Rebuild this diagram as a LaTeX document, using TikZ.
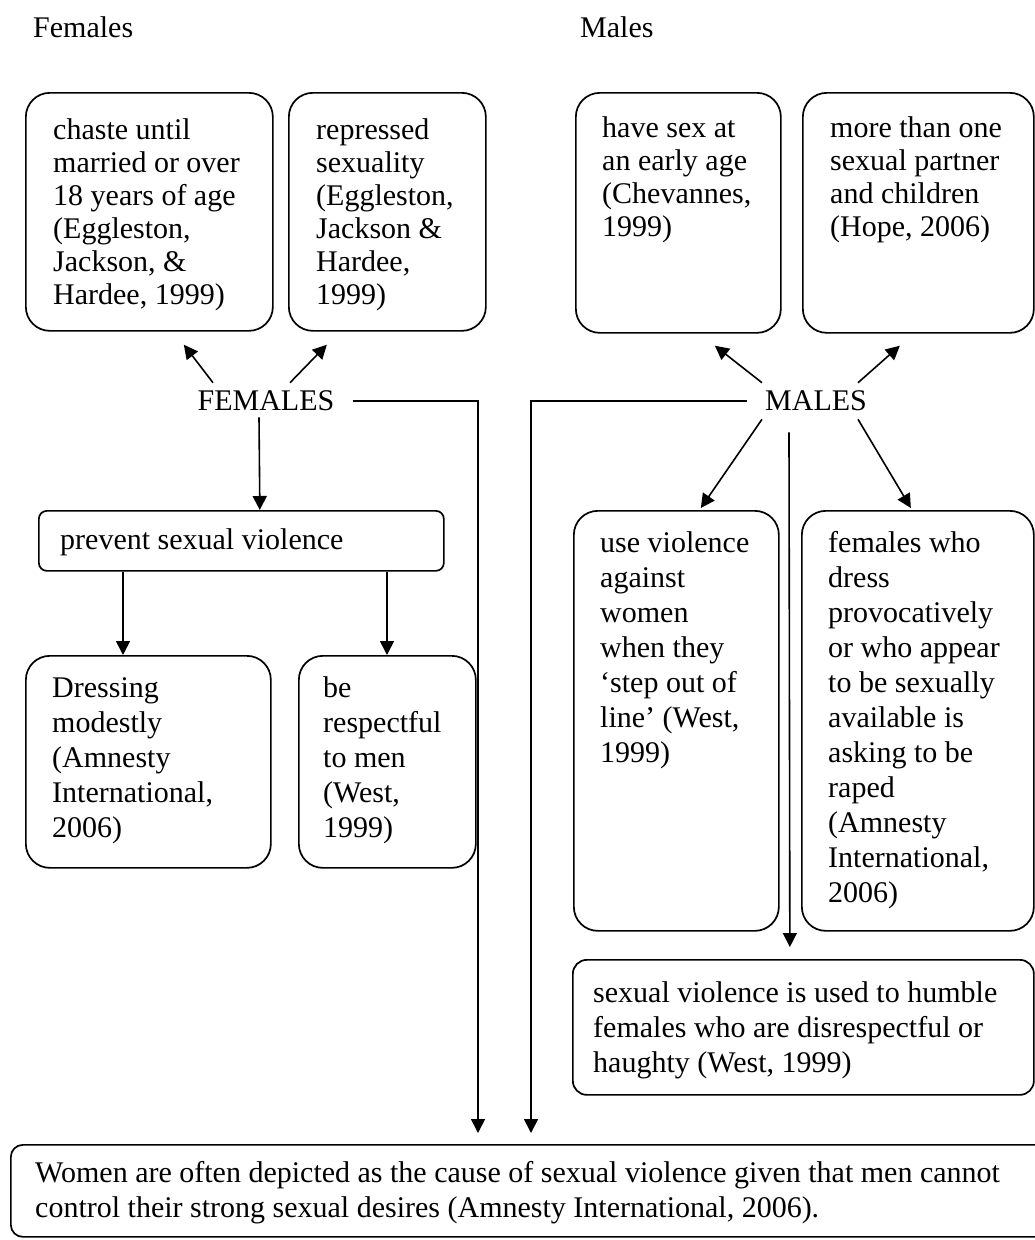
\documentclass[tikz,border=0pt]{standalone}
\usepackage{fontspec}
\setmainfont{Liberation Serif}
\usetikzlibrary{arrows.meta,calc}
\begin{document}
\begin{tikzpicture}[x=1pt,y=-1pt,
  box/.style={draw, line width=1.7pt, rounded corners=24pt, anchor=north west, inner sep=0pt},
  txttop/.style={anchor=north west, inner sep=0pt, align=left, font=\fontsize{30}{33}\selectfont},
  txt/.style={anchor=north west, inner sep=0pt, align=left, font=\fontsize{30}{35}\selectfont},
  title/.style={anchor=base west, inner sep=0pt, font=\fontsize{30}{35}\selectfont},
  hub/.style={inner xsep=18pt, inner ysep=8pt, font=\fontsize{30}{35}\selectfont},
  arr/.style={-{Triangle[length=14pt,width=14pt]}, line width=1.6pt},
  ln/.style={line width=1.6pt}]
\clip (0,0) rectangle (1035,1240);
\fill[white] (0,0) rectangle (1035,1240);

% titles
\node[title] (tF) at (33,37) {Females};
\node[title] (tM) at (580,37) {Males};

% top boxes
\node[box, minimum width=247pt, minimum height=238pt] (A) at (25,92) {};
\node[txttop] (At) at (53,116) {\strut chaste until\\married or over\\18 years of age\\(Eggleston,\\Jackson, \&\\Hardee, 1999)};
\node[box, minimum width=197pt, minimum height=238pt] (B) at (288,92) {};
\node[txttop] (Bt) at (316,116) {\strut repressed\\sexuality\\(Eggleston,\\Jackson \&\\Hardee,\\1999)};
\node[box, minimum width=205pt, minimum height=240pt] (C) at (575,92) {};
\node[txttop] (Ct) at (602,114) {\strut have sex at\\an early age\\(Chevannes,\\1999)};
\node[box, minimum width=231pt, minimum height=240pt] (D) at (802,92) {};
\node[txttop] (Dt) at (830,114) {\strut more than one\\sexual partner\\and children\\(Hope, 2006)};

% hubs
\node[hub] (FEM) at (266,401) {FEMALES};
\node[hub] (MAL) at (816,401) {MALES};

% female side
\node[box, rounded corners=8pt, minimum width=405pt, minimum height=60pt] (P) at (38,510) {};
\node[txt] (Pt) at (60,524.5) {\strut prevent sexual violence};
\node[box, minimum width=245pt, minimum height=212pt] (E) at (25,655) {};
\node[txt] (Et) at (52,672.5) {\strut Dressing\\modestly\\(Amnesty\\International,\\2006)};
\node[box, minimum width=177pt, minimum height=212pt] (F) at (298,655) {};
\node[txt] (Ft) at (323,672.5) {\strut be\\respectful\\to men\\(West,\\1999)};

% male side
\node[box, minimum width=205pt, minimum height=420pt] (G) at (573,510) {};
\node[txt] (Gt) at (600,527.5) {\strut use violence\\against\\women\\when they\\‘step out of\\line’ (West,\\1999)};
\node[box, minimum width=232pt, minimum height=420pt] (H) at (801,510) {};
\node[txt] (Ht) at (828,527.5) {\strut females who\\dress\\provocatively\\or who appear\\to be sexually\\available is\\asking to be\\raped\\(Amnesty\\International,\\2006)};
\node[box, rounded corners=14pt, minimum width=461pt, minimum height=135pt] (I) at (572,959) {};
\node[txt] (It) at (593,977.5) {\strut sexual violence is used to humble\\females who are disrespectful or\\haughty (West, 1999)};

% bottom box
\node[box, rounded corners=12pt, minimum width=1040pt, minimum height=92pt] (J) at (10,1144) {};
\node[txt] (Jt) at (35,1158) {\strut Women are often depicted as the cause of sexual violence given that men cannot\\control their strong sexual desires (Amnesty International, 2006).};

% connectors from FEMALES
\draw[arr] ($(FEM.north)+(-53,0)$) -- ($(A.south)+(34.5,13)$);
\draw[arr] ($(FEM.north)+(24,0)$) -- ($(B.south)+(-60.5,13)$);
\draw[arr] ($(FEM.south)+(-7,-2)$) -- ($(P.north)+(18.5,0)$);
\draw[arr, shorten >=11pt] (FEM.east) -| ($(J.north west)+(468,0)$);
\draw[arr] ($(P.south west)+(85,0)$) -- ($(E.north west)+(98,0)$);
\draw[arr] ($(P.south west)+(349,0)$) -- ($(F.north west)+(89,0)$);

% connectors from MALES
\draw[arr] ($(MAL.north)+(-54,0)$) -- ($(C.south)+(36.5,12)$);
\draw[arr] ($(MAL.north)+(42,0)$) -- ($(D.south)+(-18.5,12)$);
\draw[arr] ($(MAL.south)+(-54,0)$) -- ($(G.north)+(24.5,-2)$);
\draw[arr] ($(MAL.south)+(42,0)$) -- ($(H.north)+(-7,-2)$);
\draw[arr] ($(MAL.south)+(-27,13)$) -- ($(I.north)+(-13.5,-12)$);
\draw[arr, shorten >=11pt] (MAL.west) -| ($(J.north west)+(521,0)$);
\end{tikzpicture}
\end{document}
